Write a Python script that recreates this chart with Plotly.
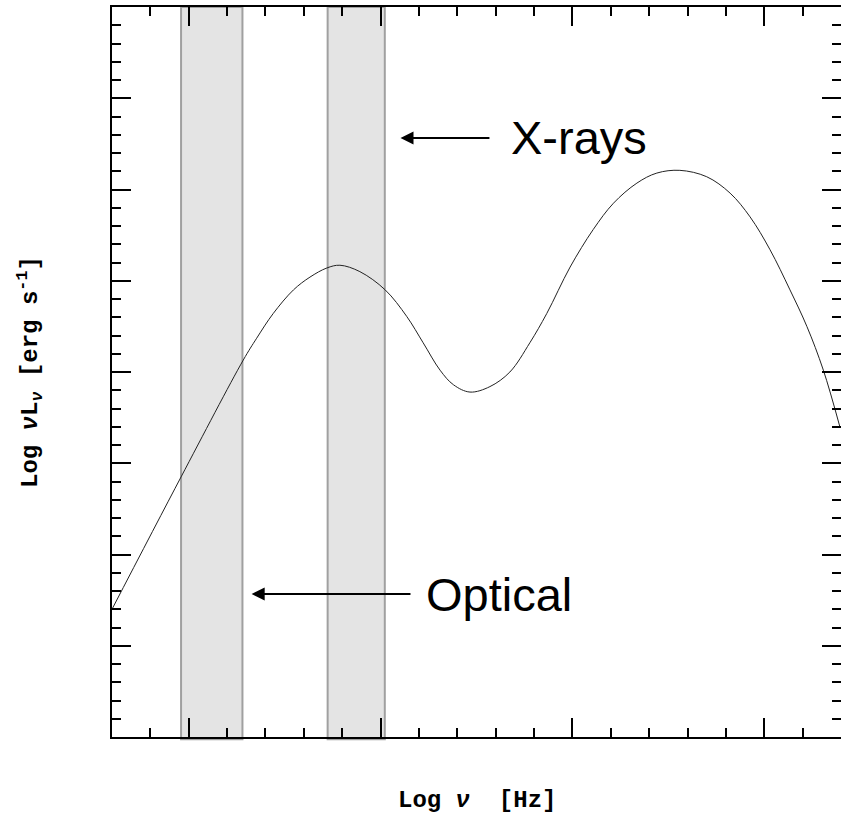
import plotly.graph_objects as go

# SED curve (log nu, log nuLnu)
log_nu = [8.0, 9.80, 11.42, 11.77, 12.20, 12.73, 13.16, 13.60, 13.94,
          14.46, 15.12, 15.68, 16.11, 16.55, 16.90, 17.33, 17.85, 18.37, 18.89,
          19.33, 19.94, 20.54, 21.07, 21.68, 22.20, 22.80, 23.50, 24.11, 24.63,
          25.15, 25.67, 26.11, 26.54, 26.97]
log_nuLnu = [41.40, 42.85, 44.13, 44.37, 44.64, 44.90, 45.04, 45.14, 45.17,
             45.10, 44.90, 44.61, 44.32, 44.02, 43.86, 43.78, 43.84, 44.00, 44.32,
             44.64, 45.15, 45.56, 45.85, 46.07, 46.18, 46.21, 46.14, 45.96, 45.70,
             45.34, 44.90, 44.50, 44.02, 43.40]

# shaded bands (log nu)
band_names = ["Optical", "X-rays"]
band_lo = [9.80, 13.62]
band_hi = [11.40, 15.11]

x_range = [8, 27]
y_range = [40, 48]

fig = go.Figure()
fig.add_trace(go.Scatter(x=log_nu, y=log_nuLnu, mode="lines",
                         line=dict(color="#222222", width=1, shape="spline", smoothing=1.0),
                         showlegend=False, hoverinfo="skip"))
# invisible trace so that the mirrored (top / right) axes are drawn
fig.add_trace(go.Scatter(x=log_nu, y=log_nuLnu, mode="lines", xaxis="x2", yaxis="y2",
                         line=dict(width=0), opacity=0, showlegend=False, hoverinfo="skip"))

for lo, hi in zip(band_lo, band_hi):
    fig.add_shape(type="rect", xref="x", yref="y domain", x0=lo, x1=hi, y0=-0.003, y1=1,
                  fillcolor="#e4e4e4", line=dict(color="#a0a0a0", width=2), layer="below")

# arrows + labels
arrow_font = dict(family="Liberation Sans, Arial, sans-serif", size=47, color="black")
fig.add_annotation(x=15.52, y=46.565, ax=20.17, ay=46.565, xref="x", yref="y", axref="x", ayref="y",
                   text=band_names[1], font=arrow_font, showarrow=True, arrowhead=2, arrowsize=1.3,
                   arrowwidth=2, arrowcolor="black", startstandoff=20)
fig.add_annotation(x=11.64, y=41.567, ax=18.086, ay=41.567, xref="x", yref="y", axref="x", ayref="y",
                   text=band_names[0], font=arrow_font, showarrow=True, arrowhead=2, arrowsize=1.3,
                   arrowwidth=2, arrowcolor="black", startstandoff=14)

title_font = dict(family="Liberation Mono, Courier New, monospace", size=24, color="black")
fig.add_annotation(x=0.5, y=0, xref="paper", yref="paper", yshift=-63, showarrow=False,
                   xanchor="center", yanchor="middle", font=title_font,
                   text="<b>Log <i>ν</i>  [Hz]</b>")
fig.add_annotation(x=0, y=0.5, xref="paper", yref="paper", xshift=-82, showarrow=False,
                   xanchor="center", yanchor="middle", textangle=-90, font=title_font,
                   text="<b>Log <i>ν</i>L<sub><i>ν</i></sub> [erg s<sup>-1</sup>]</b>")

axis_common = dict(showgrid=False, zeroline=False, showline=True, linecolor="black", linewidth=2,
                   ticks="inside", ticklen=19, tickwidth=2, tickcolor="black",
                   showticklabels=False)
xminor = dict(dtick=1, tick0=10, ticks="inside", ticklen=9, tickwidth=2, tickcolor="black")
yminor = dict(dtick=0.2, tick0=40, ticks="inside", ticklen=9, tickwidth=2, tickcolor="black")

fig.update_layout(
    xaxis=dict(range=x_range, tick0=10, dtick=5, minor=xminor, **axis_common),
    yaxis=dict(range=y_range, tick0=40, dtick=1, minor=yminor, **axis_common),
    xaxis2=dict(range=x_range, tick0=10, dtick=5, minor=xminor,
                overlaying="x", side="top", anchor="y", **axis_common),
    yaxis2=dict(range=y_range, tick0=40, dtick=1, minor=yminor, overlaying="y", side="right",
                anchor="x", **{**axis_common, "showline": False}),
    width=841, height=817, margin=dict(l=112, r=0, t=7, b=80),
    plot_bgcolor="white", paper_bgcolor="white")

fig.write_html("out.html", config={"displayModeBar": False},
               post_script="document.body.style.margin='0px';document.body.style.overflow='hidden';")
